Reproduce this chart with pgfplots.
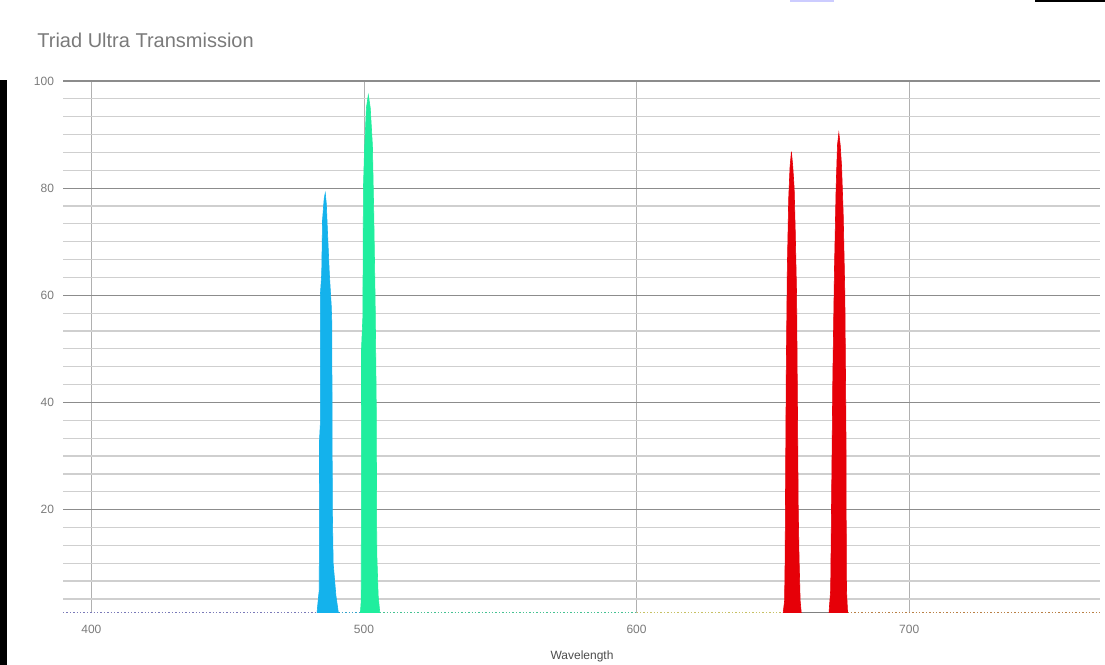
\documentclass[border=0pt]{standalone}
\usepackage{pgfplots}
\pgfplotsset{compat=1.18}
\usepackage{fontspec}
\setmainfont{Liberation Sans}
\definecolor{pblue}{HTML}{14B2EC}
\definecolor{pgreen}{HTML}{20EE9E}
\definecolor{pred}{HTML}{E60008}
\definecolor{majgrid}{HTML}{8C8C8C}
\definecolor{mingrid}{HTML}{CFCFCF}
\definecolor{txtgray}{HTML}{7A7A7A}
\begin{document}
\begin{tikzpicture}
\useasboundingbox (0,0) rectangle (552.5pt,-332.5pt);
% decorations of the screenshot
\fill[black] (0,-40pt) rectangle (3.5pt,-332.5pt);
\fill[black] (517.5pt,0) rectangle (552.5pt,-1pt);
\fill[blue!20] (395pt,0) rectangle (417pt,-1pt);
\node[anchor=west, text=txtgray, font=\fontsize{10}{12}\selectfont, inner sep=0pt] at (18.5pt,-20pt) {Triad Ultra Transmission};
\begin{axis}[
  at={(31.5pt,-306.25pt)}, anchor=south west,
  scale only axis, width=518.5pt, height=265.75pt,
  xmin=389.6, xmax=770, ymin=0.8, ymax=100,
  xtick={400,500,600,700},
  ytick={20,40,60,80,100},
  minor ytick={3.3333,6.6667,10,13.3333,16.6667,23.3333,26.6667,30,33.3333,36.6667,43.3333,46.6667,50,53.3333,56.6667,63.3333,66.6667,70,73.3333,76.6667,83.3333,86.6667,90,93.3333,96.6667},
  major tick length=0pt, minor tick length=0pt,
  xmajorgrids, ymajorgrids, yminorgrids,
  x grid style={draw=mingrid!85!black, line width=0.35pt},
  y grid style={draw=majgrid, line width=0.6pt},
  minor y grid style={draw=mingrid, line width=0.6pt},
  axis line style={draw=none},
  tick label style={font=\fontsize{6}{7}\selectfont, text=txtgray},
  /pgf/number format/assume math mode=true,
  xticklabel style={yshift=-3pt},
  yticklabel style={xshift=-1pt},
  xlabel={Wavelength},
  xlabel style={at={(axis description cs:0.5005,-0.0818)}, anchor=center, font=\fontsize{6}{7}\selectfont, text=black!70},
  clip=false,
]
% baseline (dotted)
\addplot[densely dotted, line width=0.7pt, color=blue!30!gray!80] coordinates {(389.6,0.8) (483,0.8)};
\addplot[densely dotted, line width=0.7pt, color=pblue!70!gray] coordinates {(490.6,0.8) (498.7,0.8)};
\addplot[densely dotted, line width=0.7pt, color=pgreen!60!gray] coordinates {(505.8,0.8) (600,0.8)};
\addplot[densely dotted, line width=0.7pt, color=yellow!50!gray] coordinates {(600,0.8) (653.8,0.8)};
\addplot[line width=0.6pt, color=gray] coordinates {(660.4,0.8) (670.6,0.8)};
\addplot[densely dotted, line width=0.7pt, color=orange!45!gray] coordinates {(677.4,0.8) (770,0.8)};
% blue peak
\addplot[draw=pblue, fill=pblue, line width=0.3pt] coordinates {
(482.8,0.8)(483.2,3)(483.6,5)(483.7,33)(484.0,36)(484.0,60)(484.5,64)(484.8,74)(485.4,78)(485.8,79.1)(486.2,77)(486.6,72)(487.3,64)(488.0,58)(488.2,55)(488.4,20)(488.7,10)(489.7,4)(490.6,0.8)} \closedcycle;
% green peak
\addplot[draw=pgreen, fill=pgreen, line width=0.3pt] coordinates {
(498.7,0.8)(499.0,3)(499.1,50)(499.6,56)(499.8,80)(500.2,87)(500.9,95)(501.6,97.4)(502.3,95)(503.1,88)(503.6,75)(504.1,59)(504.5,40)(504.7,12)(505.2,4)(505.8,0.8)} \closedcycle;
% red peak 1
\addplot[draw=pred, fill=pred, line width=0.3pt] coordinates {
(653.8,0.8)(654.3,3)(654.5,11)(654.6,20)(654.9,45)(655.3,65)(655.8,78)(656.3,84)(656.8,86.8)(657.3,84)(657.8,80)(658.2,72)(658.7,60)(659.0,40)(659.3,20)(659.6,11)(660.0,3)(660.4,0.8)} \closedcycle;
% red peak 2
\addplot[draw=pred, fill=pred, line width=0.3pt] coordinates {
(670.6,0.8)(671.2,5)(671.6,25)(672.0,45)(672.6,65)(673.2,80)(673.7,88)(674.2,90.3)(674.7,88)(675.2,84)(675.8,75)(676.4,60)(676.8,35)(676.9,17)(677.0,5)(677.4,0.8)} \closedcycle;
\end{axis}
\end{tikzpicture}
\end{document}
